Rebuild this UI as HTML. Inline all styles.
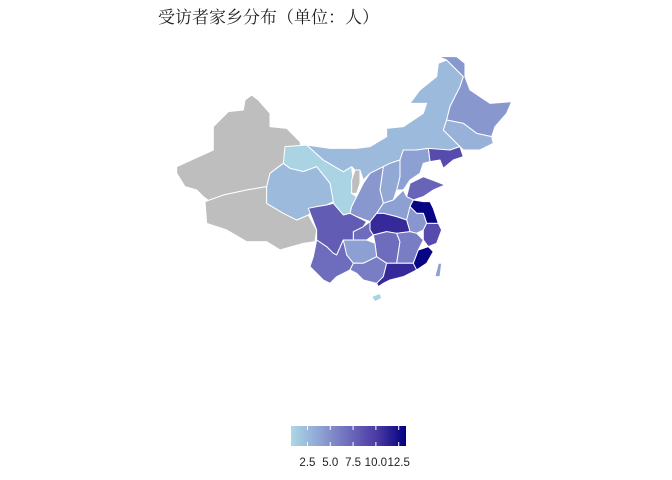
<!DOCTYPE html>
<html><head><meta charset="utf-8"><style>
body{margin:0;background:#fff;}
svg{display:block;font-family:"Liberation Sans","Noto Sans CJK SC",sans-serif;}
</style></head><body>
<svg id="chart" width="672" height="480">
<text x="158" y="23" font-size="17" fill="#222" font-family="'Liberation Serif','Noto Serif CJK SC',serif">受访者家乡分布（单位：人）</text>
<g id="map" transform="translate(170,50) scale(0.3333)"></g>
<defs><linearGradient id="lg" x1="0" x2="1" y1="0" y2="0"></linearGradient></defs>
<g id="legend"></g>
</svg>
<script>
const provinces=["Xinjiang","Tibet","Gansu","Qinghai","Ningxia","InnerMongolia","Heilongjiang","Jilin","Liaoning","Hebei","Shanxi","Shaanxi","Shandong","Henan","Jiangsu","Anhui","Zhejiang","Hubei","Chongqing","Sichuan","Hunan","Jiangxi","Fujian","Guizhou","Yunnan","Guangxi","Guangdong","Hainan","Taiwan"];
const values=[null,null,1,2.5,null,2.5,4.5,3,9,4,3.5,4.5,7.5,4,13,4.5,9,11,7,8,7,6,13,4,7,6,11,1,4];
const legendTicks=[2.5,5,7.5,10,12.5];
const legendLabels=["2.5","5.0","7.5","10.0","12.5"];
const vMin=0.7,vMax=13.3;
const shapes={
Xinjiang:"20,350 130,300 130,230 175,185 220,180 225,150 245,135 265,150 300,190 300,230 350,235 390,275 395,300 340,340 300,370 290,410 230,420 160,435 120,455 100,440 80,420 45,410 20,370",
Tibet:"105,455 160,435 230,420 290,410 290,460 340,490 380,510 415,495 440,540 435,575 400,580 330,600 290,575 230,575 170,540 110,520",
Gansu:"340,340 345,290 410,285 460,330 520,365 545,350 550,395 545,430 560,440 545,470 540,490 520,495 490,460 480,400 440,350 400,365 360,355",
Qinghai:"290,410 300,370 340,340 360,355 400,365 440,350 480,400 490,455 470,465 440,470 415,495 380,510 340,490 290,460",
Ningxia:"545,390 555,360 570,360 570,400 560,430 545,430",
InnerMongolia:"410,285 480,295 560,295 600,290 650,260 650,235 700,230 760,190 770,160 720,160 750,120 800,80 805,40 830,30 860,60 880,80 870,110 840,170 830,210 820,240 870,290 840,300 790,300 775,295 740,300 700,300 690,330 660,340 600,370 580,390 570,360 555,360 545,350 520,365 460,330",
Heilongjiang:"805,20 860,20 885,40 885,80 900,120 960,160 1025,155 1010,190 975,230 965,260 920,250 880,220 830,210 840,170 870,110 880,80 860,60 830,30",
Jilin:"830,210 880,220 920,250 965,260 970,280 930,300 880,300 870,290 820,240",
Liaoning:"775,295 840,300 870,290 880,320 850,330 820,355 810,330 780,335",
Hebei:"690,330 700,300 740,300 775,295 780,335 760,340 750,370 720,390 700,420 680,420 690,380",
Shanxi:"640,350 660,340 690,330 690,380 680,420 670,450 640,460 630,420",
Shaanxi:"600,370 640,350 630,420 640,460 620,490 600,515 560,500 540,490 545,470 560,440 580,400",
Shandong:"720,400 760,380 800,395 825,405 790,420 760,440 730,450 710,440",
Henan:"640,460 670,450 700,420 710,440 730,450 720,470 740,490 710,510 680,500 640,490 620,490",
Jiangsu:"730,450 760,455 780,455 790,475 805,520 770,520 760,490 740,490 720,470",
Anhui:"720,470 740,490 760,490 770,520 760,540 740,550 720,545 710,510",
Zhejiang:"770,520 805,520 815,540 800,580 775,590 760,570 760,540",
Hubei:"600,515 620,490 640,490 680,500 710,510 720,545 680,550 650,545 610,555 600,540",
Chongqing:"550,545 580,530 600,515 600,540 610,555 590,570 570,570 550,570",
Sichuan:"415,475 440,470 470,465 490,460 520,495 540,490 560,500 590,515 580,530 550,545 550,570 530,590 520,570 500,615 490,610 470,590 440,570 440,540",
Hunan:"610,555 650,545 680,550 690,575 680,640 650,640 620,620 615,580",
Jiangxi:"680,550 720,545 740,550 760,570 745,600 730,640 700,640 680,640 690,575",
Fujian:"745,600 775,590 790,605 770,640 740,660 720,650 730,640",
Guizhou:"520,570 550,570 570,570 590,570 615,580 620,620 580,640 550,640 530,615 510,610",
Yunnan:"440,570 470,590 490,610 500,615 520,570 530,615 550,640 540,660 500,680 480,700 460,690 450,680 420,650 430,620",
Guangxi:"550,640 580,640 620,620 650,640 640,680 620,700 580,690 560,670 540,660",
Guangdong:"650,640 680,640 730,640 740,660 700,680 660,690 640,700 625,710 620,700 640,680",
Hainan:"605,740 630,730 635,745 615,755",
Taiwan:"805,640 815,640 810,680 795,680"};
const stops=[[173,216,230],[143,163,212],[110,108,188],[74,57,164],[0,0,128]];
function color(v){
  if(v==null) return "#bebebe";
  let t=Math.max(0,Math.min(1,(v-vMin)/(vMax-vMin)))*(stops.length-1);
  let i=Math.min(Math.floor(t),stops.length-2),f=t-i;
  const c=stops[i].map((a,k)=>Math.round(a+(stops[i+1][k]-a)*f));
  return "rgb("+c.join(",")+")";
}
const NS="http://www.w3.org/2000/svg";
const map=document.getElementById("map");
provinces.forEach((p,i)=>{
  const el=document.createElementNS(NS,"polygon");
  el.setAttribute("points",shapes[p]);
  el.setAttribute("fill",color(values[i]));
  el.setAttribute("stroke","#fff");
  el.setAttribute("stroke-width","3");
  el.setAttribute("stroke-linejoin","round");
  
  
  map.appendChild(el);
});
const lx0=291,lx1=406,ly=426,lh=20;
const xs=v=>lx0+(v-vMin)/(vMax-vMin)*(lx1-lx0);
const lg=document.getElementById("lg");
for(let k=0;k<=20;k++){
  const s=document.createElementNS(NS,"stop");
  s.setAttribute("offset",(k/20));
  s.setAttribute("stop-color",color(vMin+(vMax-vMin)*k/20));
  lg.appendChild(s);
}
const leg=document.getElementById("legend");
const bar=document.createElementNS(NS,"rect");
bar.setAttribute("x",lx0);bar.setAttribute("y",ly);bar.setAttribute("width",lx1-lx0);bar.setAttribute("height",lh);
bar.setAttribute("fill","url(#lg)");


leg.appendChild(bar);
legendTicks.forEach((v,i)=>{
  const x=xs(v);
  [[ly,ly+4],[ly+lh-4,ly+lh]].forEach(([a,b])=>{
    const t=document.createElementNS(NS,"line");
    t.setAttribute("x1",x);t.setAttribute("x2",x);t.setAttribute("y1",a);t.setAttribute("y2",b);
    t.setAttribute("stroke","#fff");t.setAttribute("stroke-width","1");
    
    
    leg.appendChild(t);
  });
  const tx=document.createElementNS(NS,"text");
  tx.setAttribute("x",x);tx.setAttribute("y",466);tx.setAttribute("text-anchor","middle");
  tx.setAttribute("font-size","11.5");tx.setAttribute("fill","#222");
  tx.textContent=legendLabels[i];
  
  
  leg.appendChild(tx);
});
</script>
</body></html>
